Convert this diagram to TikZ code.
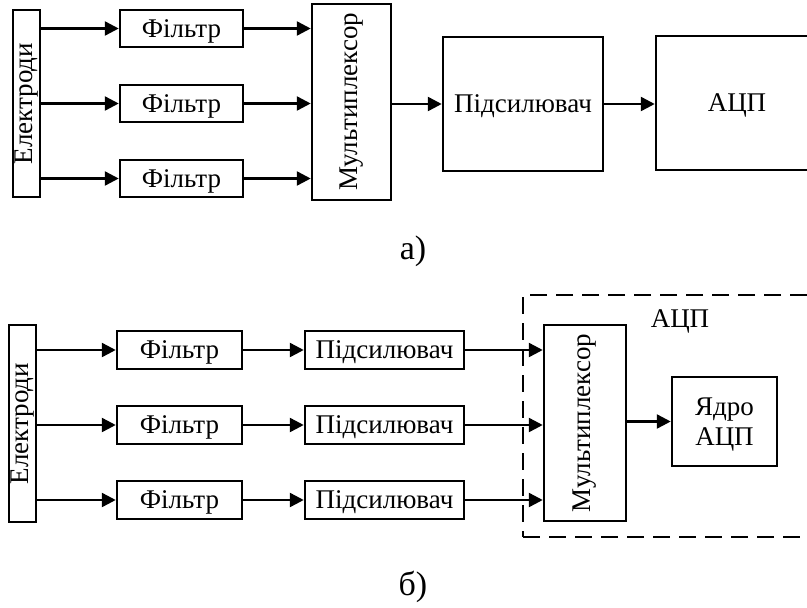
\documentclass[tikz,border=0pt]{standalone}
\usepackage{fontspec}
\usepackage{graphicx}
\setmainfont{Liberation Serif}
\usetikzlibrary{arrows.meta}
\begin{document}
\begin{tikzpicture}[x=1pt,y=-1pt,
  blk/.style={draw, line width=2.5pt, inner sep=0pt, text depth=0pt,
    font=\fontsize{27}{30}\selectfont},
  conn/.style={line width=2.5pt, -{Triangle[length=14pt,width=14pt]}},
  frame/.style={draw, line width=2.5pt, dash pattern=on 17pt off 9pt, inner sep=0pt},
  lbl/.style={inner sep=0pt, font=\fontsize{27}{30}\selectfont},
  sublabel/.style={inner sep=0pt, font=\fontsize{34}{40}\selectfont}]
\useasboundingbox (0,0) rectangle (807,608);
\clip (0,0) rectangle (807,608);

% ---------- scheme a) ----------
\node[blk, minimum width=27pt, minimum height=187pt] (elA) at (26.5,103.5) {\rotatebox{90}{Електроди}};
\node[blk, minimum width=123pt, minimum height=37pt] (fA1) at (181.5,28.5) {Фільтр};
\node[blk, minimum width=123pt, minimum height=37pt] (fA2) at (181.5,103.5) {Фільтр};
\node[blk, minimum width=123pt, minimum height=37pt] (fA3) at (181.5,178.5) {Фільтр};
\node[blk, minimum width=79pt, minimum height=196pt] (muxA) at (351.5,102) {\rotatebox{90}{Мультиплексор}};
\node[blk, minimum width=160pt, minimum height=134pt] (ampA) at (523,104) {Підсилювач};
\node[blk, minimum width=162pt, minimum height=134pt] (adcA) at (737,103) {АЦП};
\node[sublabel] (capA) at (413,251) {а)};

\foreach \i in {1,2,3} {
  \draw[conn] (elA.east |- fA\i.west) -- (fA\i.west);
  \draw[conn] (fA\i.east) -- (muxA.west |- fA\i.east);
}
\draw[conn] (muxA.east |- ampA.west) -- (ampA.west);
\draw[conn] (ampA.east) -- (adcA.west |- ampA.east);

% ---------- scheme b) ----------
\node[frame, minimum width=307pt, minimum height=242pt] (adcB) at (676.5,416) {};
\node[lbl] (adcLbl) at (680,321) {АЦП};
\node[blk, minimum width=27pt, minimum height=197pt] (elB) at (22.5,423.5) {\rotatebox{90}{Електроди}};
\node[blk, minimum width=125pt, minimum height=38pt] (fB1) at (179.5,350) {Фільтр};
\node[blk, minimum width=125pt, minimum height=38pt] (fB2) at (179.5,425) {Фільтр};
\node[blk, minimum width=125pt, minimum height=38pt] (fB3) at (179.5,500) {Фільтр};
\node[blk, minimum width=159pt, minimum height=38pt] (aB1) at (384.5,350) {Підсилювач};
\node[blk, minimum width=159pt, minimum height=38pt] (aB2) at (384.5,425) {Підсилювач};
\node[blk, minimum width=159pt, minimum height=38pt] (aB3) at (384.5,500) {Підсилювач};
\node[blk, minimum width=82pt, minimum height=196pt] (muxB) at (585,423) {\rotatebox{90}{Мультиплексор}};
\node[blk, align=center, minimum width=105pt, minimum height=89pt] (coreB) at (724.5,421.5) {Ядро\\АЦП};
\node[sublabel] (capB) at (413,587) {б)};

\foreach \i in {1,2,3} {
  \draw[conn] (elB.east |- fB\i.west) -- (fB\i.west);
  \draw[conn] (fB\i.east) -- (aB\i.west);
  \draw[conn] (aB\i.east) -- (muxB.west |- aB\i.east);
}
\draw[conn] (muxB.east |- coreB.west) -- (coreB.west);
\end{tikzpicture}
\end{document}
